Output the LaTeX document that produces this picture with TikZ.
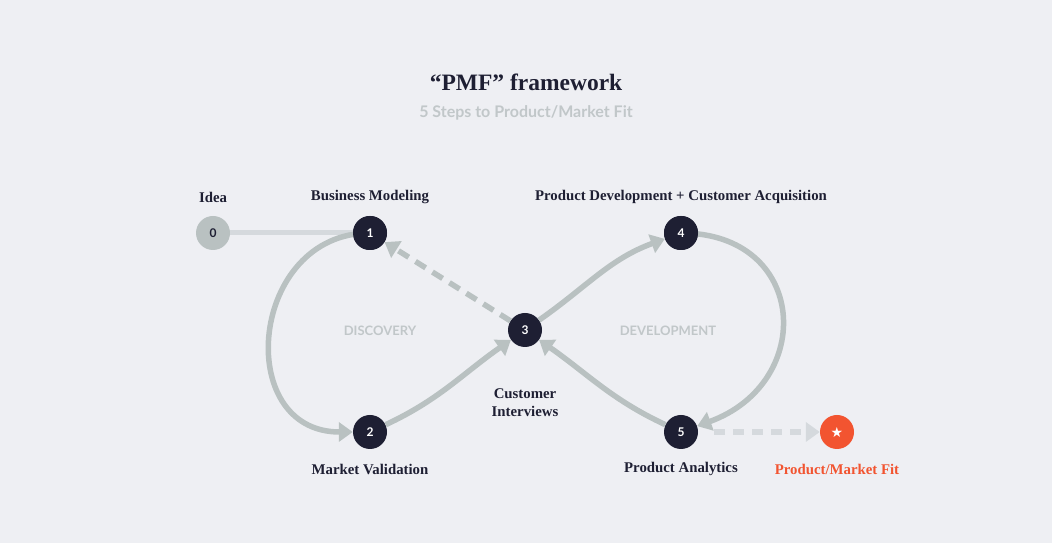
\documentclass[tikz,border=0pt]{standalone}
\usepackage{fontspec}
\setmainfont{Liberation Serif}
\setsansfont{Lato}
\newfontfamily\symfont{DejaVu Sans}
\definecolor{BackColor}{RGB}{238,239,243}
\definecolor{NavyColor}{RGB}{30,31,51}
\definecolor{LoopGray}{RGB}{185,193,193}
\definecolor{PaleGray}{RGB}{213,217,221}
\definecolor{TextGray}{RGB}{193,199,201}
\definecolor{FitColor}{RGB}{242,84,48}
\usetikzlibrary{positioning, arrows.meta}

\begin{document}
\begin{tikzpicture}[x=1pt, y=1pt,
    stepnode/.style={circle, fill=NavyColor, text=white, minimum size=34pt, inner sep=0pt, font=\sffamily\bfseries\fontsize{12}{14}\selectfont},
    steplabel/.style={font=\bfseries\fontsize{14.8}{17}\selectfont, text=NavyColor, align=center},
    phase/.style={font=\sffamily\bfseries\fontsize{13}{15}\selectfont, text=TextGray},
    loop/.style={line width=5.5pt, LoopGray, -{Triangle[length=14pt, width=19pt]}},
    fitline/.style={line width=5.5pt, PaleGray, dash pattern=on 11pt off 8pt, -{Triangle[length=14pt, width=19pt]}}]
  % background and frame
  \fill[BackColor] (0,0) rectangle (1052,543);
  \useasboundingbox (0,0) rectangle (1052,543);

  % heading
  \node[font=\bfseries\fontsize{23.5}{27}\selectfont, text=NavyColor] (title) at (526,461) {``PMF'' framework};
  \node[font=\sffamily\bfseries\fontsize{16}{19}\selectfont, text=TextGray] (subtitle) at (526,430) {5 Steps to Product/Market Fit};

  % steps
  \node[stepnode, fill=LoopGray, text=NavyColor] (n0) at (213,310) {0};
  \node[stepnode] (n1) at (370,310) {1};
  \node[stepnode] (n2) at (370,111) {2};
  \node[stepnode] (n3) at (525,213) {3};
  \node[stepnode] (n4) at (681,310) {4};
  \node[stepnode] (n5) at (681,111) {5};
  \node[stepnode, fill=FitColor, font=\symfont\fontsize{14}{14}\selectfont] (fit) at (837,111) {★};

  % connectors
  \draw[line width=5pt, PaleGray] (n0) -- (n1);
  \draw[loop] (n1.center) to[out=180, in=180, looseness=1.55] (n2);
  \draw[loop] (n2) to[out=25, in=215] (n3);
  \draw[loop] (n3) to[out=35, in=200] (n4);
  \draw[loop] (n4.center) to[out=0, in=20, looseness=1.68] (n5);
  \draw[loop] (n5) to[out=155, in=-35] (n3);
  \draw[loop, dash pattern=on 12pt off 8pt] (n3) -- (n1);
  \draw[fitline, shorten <=16pt] (n5) -- (fit);

  % steps 1 and 4 on top of their loops
  \node[stepnode] at (n1) {1};
  \node[stepnode] at (n4) {4};

  % labels
  \node[steplabel] (idea) at (213,346) {Idea};
  \node[steplabel] (bm) at (370,346) {Business Modeling};
  \node[steplabel] (pd) at (681,346) {Product Development + Customer Acquisition};
  \node[steplabel, font=\bfseries\fontsize{14.8}{18}\selectfont] (ci) at (525,140) {Customer\\Interviews};
  \node[steplabel] (mv) at (370,74) {Market Validation};
  \node[steplabel] (pa) at (681,74) {Product Analytics};
  \node[steplabel, text=FitColor] (pmf) at (837,74) {Product/Market Fit};
  \node[phase] (disc) at (380,212) {DISCOVERY};
  \node[phase] (dev) at (668,212) {DEVELOPMENT};
\end{tikzpicture}
\end{document}
